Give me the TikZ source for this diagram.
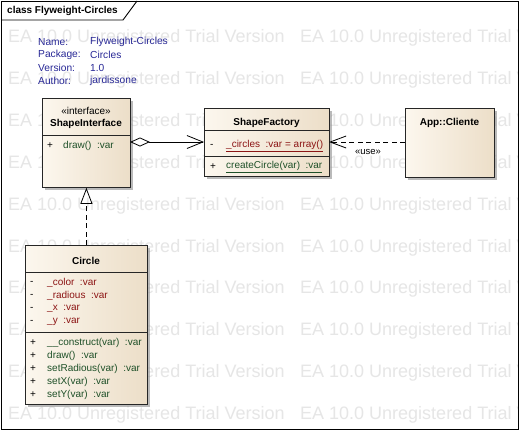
\documentclass[tikz,border=0pt]{standalone}
\usepackage{fontspec}
\setmainfont{Liberation Sans}
\usetikzlibrary{arrows.meta,shadows}
\definecolor{wm}{RGB}{230,230,230}
\definecolor{meta}{RGB}{40,40,150}
\definecolor{attr}{RGB}{140,20,20}
\definecolor{oper}{RGB}{30,80,40}
\definecolor{boxl}{RGB}{252,247,238}
\definecolor{boxr}{RGB}{236,222,200}
\tikzset{
  classbox/.style={draw=black!85, line width=0.8pt, left color=boxl, right color=boxr,
    drop shadow={shadow xshift=3pt, shadow yshift=-3pt, fill=black!45, opacity=0.6},
    rectangle, anchor=north west, inner sep=0pt},
  sep/.style={draw=black!85, line width=0.8pt},
  cname/.style={font=\fontsize{10}{11}\selectfont\bfseries, inner sep=0pt, anchor=center},
  stereo/.style={font=\fontsize{10}{11}\selectfont, inner sep=0pt, anchor=center},
  vis/.style={font=\fontsize{10}{11}\selectfont, inner sep=0pt, anchor=west},
  attrtxt/.style={font=\fontsize{10}{11}\selectfont, text=attr, inner sep=0pt, anchor=west},
  optxt/.style={font=\fontsize{10}{11}\selectfont, text=oper, inner sep=0pt, anchor=west},
  metatxt/.style={font=\fontsize{10.2}{11}\selectfont, text=meta, inner sep=0pt, anchor=west},
  wmark/.style={font=\fontsize{18}{20}\selectfont, text=wm, inner sep=0pt, anchor=base west},
  conn/.style={draw=black, line width=0.8pt},
}
\begin{document}
\begin{tikzpicture}[x=1pt,y=-1pt]
\useasboundingbox (0,0) rectangle (520,431);
\fill[white] (0,0) rectangle (520,431);
% watermark
\begin{scope}
\clip (1,1) rectangle (518,429);
\foreach \r in {0,...,9}{
  \node[wmark] (wa\r) at (8,{42.5+41.9*\r}) {EA 10.0 Unregistered Trial Version};
  \node[wmark] (wb\r) at (300,{42.5+41.9*\r}) {EA 10.0 Unregistered Trial Version};
}
\end{scope}
% frame
\draw[line width=0.9pt] (1,1) rectangle (518,429.5);
\draw[line width=0.9pt] (1,20) -- (123,20) -- (137,1);
\node[font=\fontsize{10}{12}\selectfont\bfseries, anchor=west, inner sep=0pt] (title) at (7,11) {class Flyweight-Circles};
% metadata
\node[metatxt] (mn) at (38,42) {Name:};
\node[metatxt] (mp) at (38,55) {Package:};
\node[metatxt] (mv) at (38,68) {Version:};
\node[metatxt] (ma) at (38,81) {Author:};
\node[metatxt] (vn) at (90,42) {Flyweight-Circles};
\node[metatxt] (vp) at (90,55) {Circles};
\node[metatxt] (vv) at (90,68) {1.0};
\node[metatxt] (va) at (90,81) {jardissone};

% ShapeInterface
\node[classbox, minimum width=88pt, minimum height=89pt] (si) at (42,98) {};
\draw[sep] (42,135) -- (130,135);
\node[stereo] (sist) at (86,111) {«interface»};
\node[cname] (sin) at (86,124) {ShapeInterface};
\node[vis] (siv1) at (47,146) {+};
\node[optxt] (sio1) at (63,146) {draw()~~:var};

% ShapeFactory
\node[classbox, minimum width=125pt, minimum height=68pt] (sf) at (204,108) {};
\draw[sep] (204,130.5) -- (329,130.5);
\draw[sep] (204,156) -- (329,156);
\node[cname] (sfn) at (266.5,123) {ShapeFactory};
\node[vis] (sfv1) at (210,146) {-};
\node[attrtxt] (sfa1) at (226,146) {\underline{\_circles~~:var = array()}};
\node[vis] (sfv2) at (210,167) {+};
\node[optxt] (sfo1) at (226,167) {\underline{createCircle(var)~~:var}};

% App::Cliente
\node[classbox, minimum width=89pt, minimum height=69pt] (ac) at (405,108) {};
\node[cname] (acn) at (449.5,123) {App::Cliente};

% Circle
\node[classbox, minimum width=122pt, minimum height=159pt] (ci) at (25,245) {};
\draw[sep] (25,272) -- (147,272);
\draw[sep] (25,332) -- (147,332);
\node[cname] (cin) at (86,261) {Circle};
\foreach \t [count=\i] in {\_color~~:var,\_radious~~:var,\_x~~:var,\_y~~:var}{
  \node[vis] (cav\i) at (30,{270+13*\i}) {-};
  \node[attrtxt] (caa\i) at (47,{270+13*\i}) {\t};
}
\foreach \t [count=\i] in {\_\_construct(var)~~:var,draw()~~:var,setRadious(var)~~:var,setX(var)~~:var,setY(var)~~:var}{
  \node[vis] (cov\i) at (30,{330.2+12.9*\i}) {+};
  \node[optxt] (coo\i) at (47,{330.2+12.9*\i}) {\t};
}

% connectors
\coordinate (siE) at (130,142);
\coordinate (sfW) at (204,142);
\coordinate (sfE) at (329,142);
\coordinate (acW) at (405,142);
\draw[conn, {Diamond[open,length=20pt,width=9pt]}-{Straight Barb[length=16pt,width=13pt]}] (siE) -- (sfW);
\draw[conn, dash pattern=on 5pt off 3.5pt, -{Straight Barb[length=16pt,width=12pt]}] (acW) -- (sfE);
\node[font=\fontsize{9.5}{10}\selectfont, inner sep=0pt] (use) at (368,152) {«use»};
\draw[conn, dash pattern=on 5pt off 3.5pt, -{Triangle[open,length=16pt,width=12pt]}] (ci.north) -- (si.south);
\end{tikzpicture}
\end{document}
